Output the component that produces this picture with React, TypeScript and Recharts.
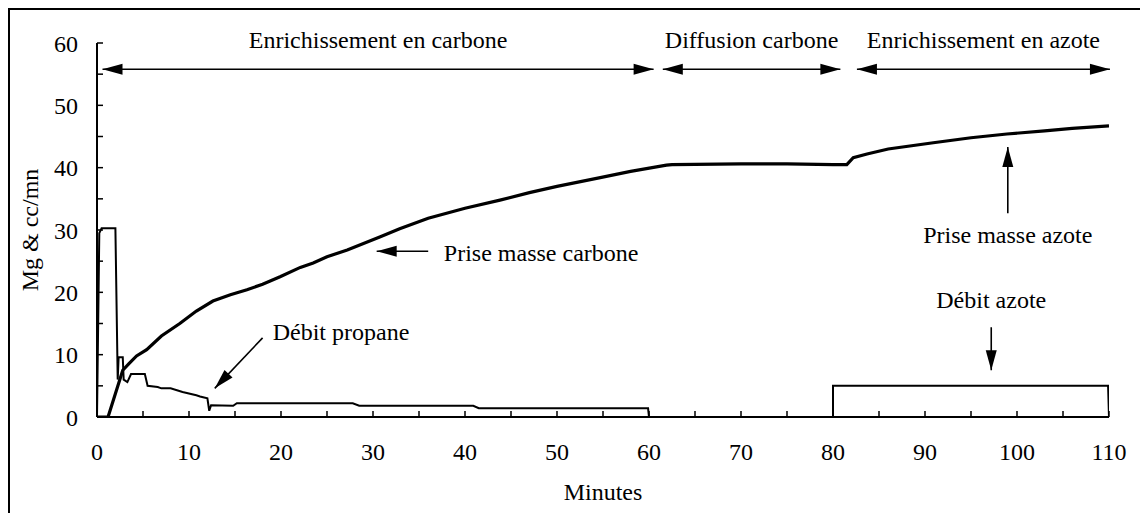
import React from 'react';
import { LineChart, Line, XAxis, YAxis, ReferenceLine, ReferenceDot } from 'recharts';

// Prise masse carbone (Mg) vs minutes
const carbonT = [0, 1.2, 2.8, 3.5, 4.3, 5.4, 7, 9, 10.8, 12.6, 14.5, 16.3, 18, 19.9, 22.1, 23.5, 25, 27.2, 30.8, 32.9, 36, 40, 43.8, 47, 50, 54.7, 58, 61.9, 62.5, 70, 75, 80, 81.5, 82.2, 83.7, 86, 90.9, 95, 98.9, 103, 106, 110];
const carbonV = [0, 0, 7.5, 8.6, 9.8, 10.8, 13, 15, 17, 18.6, 19.6, 20.4, 21.3, 22.5, 24.0, 24.7, 25.7, 26.8, 28.9, 30.2, 31.9, 33.5, 34.8, 36, 37, 38.4, 39.4, 40.4, 40.5, 40.6, 40.6, 40.5, 40.5, 41.6, 42.2, 43.0, 44.0, 44.8, 45.4, 45.9, 46.3, 46.7];

// Débit propane (cc/mn)
const propaneT = [0, 0.25, 0.5, 2.0, 2.25, 2.35, 2.8, 2.9, 3.3, 3.7, 5.2, 5.5, 6.6, 7.0, 8.0, 9.3, 10.8, 11.2, 12.0, 12.2, 12.4, 14.8, 15.2, 27.8, 28.5, 40.9, 41.5, 59.9, 60.0];
const propaneV = [0, 29.5, 30.3, 30.3, 6.0, 9.6, 9.6, 6.0, 5.6, 6.9, 6.9, 5.0, 4.8, 4.6, 4.6, 4.0, 3.5, 3.3, 3.0, 1.0, 1.9, 1.8, 2.2, 2.2, 1.8, 1.8, 1.4, 1.4, 0];

// Débit azote (cc/mn)
const azoteT = [60, 80, 80, 109.9, 110];
const azoteV = [0, 0, 5.0, 5.0, 0];

const xTicks = [0, 5, 10, 15, 20, 25, 30, 35, 40, 45, 50, 55, 60, 65, 70, 75, 80, 85, 90, 95, 100, 105, 110];
const yTicks = [0, 5, 10, 15, 20, 25, 30, 35, 40, 45, 50, 55, 60];

// Phases (double arrows) and their titles
const phaseLabels = ['Enrichissement en carbone', 'Diffusion carbone', 'Enrichissement en azote'];
const phaseStart = [0.6, 61.5, 82.6];
const phaseEnd = [60.5, 80.8, 110.1];
const phaseLevel = 55.8;
const phaseTitleLevel = 59.2;

// Annotations: label text, label anchor point, arrow tail and tip
const noteLabels = ['Prise masse carbone', 'Débit propane', 'Prise masse azote', 'Débit azote'];
const noteLabelT = [37.7, 19.1, 99.0, 97.2];
const noteLabelV = [25.0, 12.4, 27.9, 17.5];
const noteAnchor = ['start', 'start', 'middle', 'middle'];
const noteTailT = [36.0, 18.0, 99.0, 97.2];
const noteTailV = [26.6, 12.7, 32.7, 14.4];
const noteTipT = [30.4, 12.8, 99.0, 97.2];
const noteTipV = [26.6, 4.6, 43.3, 7.5];

const FONT = "'Liberation Serif', 'Times New Roman', serif";

const zip = (ts: number[], vs: number[]) => ts.map((t, i) => ({ t, v: vs[i] }));
const carbonData = zip(carbonT, carbonV);
const propaneData = zip(propaneT, propaneV);
const azoteData = zip(azoteT, azoteV);

const headPts = (tx: number, ty: number, ux: number, uy: number, L: number, W: number) => {
  const bx = tx - ux * L;
  const by = ty - uy * L;
  return `${tx},${ty} ${bx - uy * W},${by + ux * W} ${bx + uy * W},${by - ux * W}`;
};

const arrowShape = (both: boolean) => (p: any) => {
  const { x1, y1, x2, y2 } = p;
  const dx = x2 - x1;
  const dy = y2 - y1;
  const len = Math.hypot(dx, dy) || 1;
  const ux = dx / len;
  const uy = dy / len;
  const L = 20;
  const W = 5.5;
  return (
    <g>
      <line x1={x1} y1={y1} x2={x2} y2={y2} stroke="#000" strokeWidth={1.6} />
      <polygon points={headPts(x2, y2, ux, uy, L, W)} fill="#000" />
      {both && <polygon points={headPts(x1, y1, -ux, -uy, L, W)} fill="#000" />}
    </g>
  );
};

const textShape = (label: string, anchor: string, rotate = 0) => (p: any) => (
  <text
    x={p.cx}
    y={p.cy}
    textAnchor={anchor as any}
    fontFamily={FONT}
    fontSize={24}
    fill="#000"
    transform={rotate ? `rotate(${rotate}, ${p.cx}, ${p.cy})` : undefined}
  >
    {label}
  </text>
);

export default function App() {
  return (
    <div style={{ width: 1136, height: 507, border: '2px solid #000', boxSizing: 'border-box', background: '#fff' }}>
      <LineChart
        width={1132}
        height={495}
        margin={{ top: 33, right: 33, left: 0, bottom: 58 }}
      >
        <XAxis
          dataKey="t"
          type="number"
          domain={[0, 110]}
          ticks={xTicks}
          interval={0}
          allowDataOverflow
          tickSize={-6}
          tickMargin={32}
          height={30}
          axisLine={{ stroke: '#000', strokeWidth: 2 }}
          tickLine={{ stroke: '#000', strokeWidth: 1.5 }}
          tick={{ fill: '#000', fontSize: 24, fontFamily: FONT }}
          tickFormatter={(v: number) => (v % 10 === 0 ? String(v) : '')}
        />
        <YAxis
          type="number"
          domain={[0, 60]}
          ticks={yTicks}
          interval={0}
          allowDataOverflow
          width={87}
          tickSize={-6}
          tickMargin={25}
          axisLine={{ stroke: '#000', strokeWidth: 2 }}
          tickLine={{ stroke: '#000', strokeWidth: 1.5 }}
          tick={{ fill: '#000', fontSize: 24, fontFamily: FONT }}
          tickFormatter={(v: number) => (v % 10 === 0 ? String(v) : '')}
        />
        <Line data={azoteData} dataKey="v" type="linear" stroke="#000" strokeWidth={2} dot={false} isAnimationActive={false} />
        <Line data={propaneData} dataKey="v" type="linear" stroke="#000" strokeWidth={2} dot={false} isAnimationActive={false} />
        <Line data={carbonData} dataKey="v" type="linear" stroke="#000" strokeWidth={3.2} dot={false} isAnimationActive={false} />

        {phaseLabels.map((lab, i) => (
          <ReferenceLine
            key={'pa' + i}
            segment={[{ x: phaseStart[i], y: phaseLevel }, { x: phaseEnd[i], y: phaseLevel }]}
            ifOverflow="visible"
            shape={arrowShape(true)}
          />
        ))}
        {phaseLabels.map((lab, i) => (
          <ReferenceDot
            key={'pt' + i}
            x={(phaseStart[i] + phaseEnd[i]) / 2}
            y={phaseTitleLevel}
            r={0}
            ifOverflow="visible"
            shape={textShape(lab, 'middle')}
          />
        ))}
        {noteLabels.map((lab, i) => (
          <ReferenceLine
            key={'na' + i}
            segment={[{ x: noteTailT[i], y: noteTailV[i] }, { x: noteTipT[i], y: noteTipV[i] }]}
            ifOverflow="visible"
            shape={arrowShape(false)}
          />
        ))}
        {noteLabels.map((lab, i) => (
          <ReferenceDot
            key={'nt' + i}
            x={noteLabelT[i]}
            y={noteLabelV[i]}
            r={0}
            ifOverflow="visible"
            shape={textShape(lab, noteAnchor[i])}
          />
        ))}
        <ReferenceDot x={55} y={-13.3} r={0} ifOverflow="visible" shape={textShape('Minutes', 'middle')} />
        <ReferenceDot x={-6.4} y={30} r={0} ifOverflow="visible" shape={textShape('Mg & cc/mn', 'middle', -90)} />
      </LineChart>
    </div>
  );
}
